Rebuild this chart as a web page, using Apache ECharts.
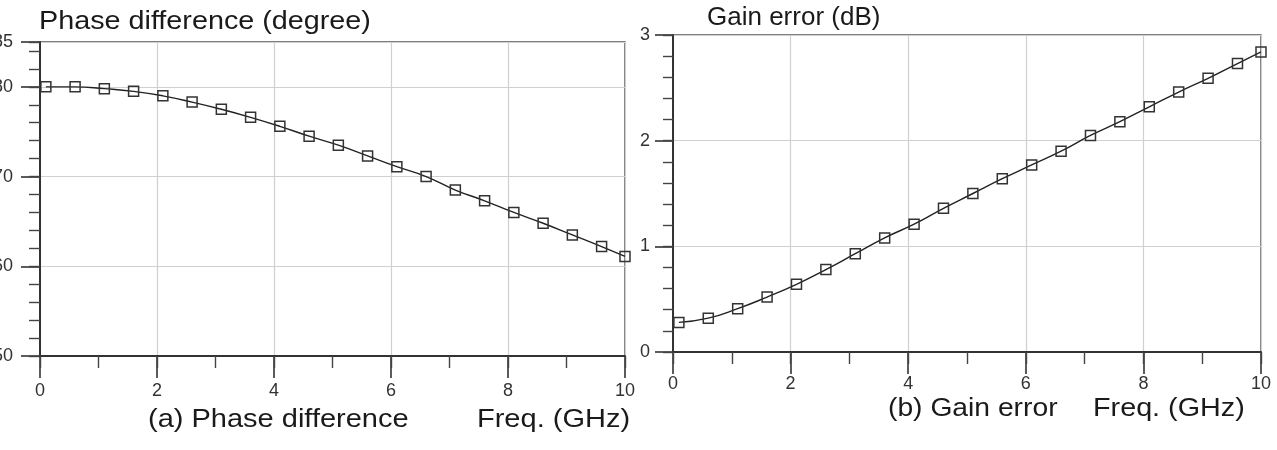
<!DOCTYPE html>
<html>
<head>
<meta charset="utf-8">
<script src="https://cdn.jsdelivr.net/npm/echarts@6/dist/echarts.min.js"></script>
<style>
  html, body { margin: 0; padding: 0; background: #fff; }
  #chart { width: 1277px; height: 450px; }
</style>
</head>
<body>
<div id="chart"></div>
<script>
// frequency points (GHz), shared by both plots
var freq = [0.1, 0.6, 1.1, 1.6, 2.1, 2.6, 3.1, 3.6, 4.1, 4.6, 5.1, 5.6, 6.1, 6.6, 7.1, 7.6, 8.1, 8.6, 9.1, 9.6, 10];
// (a) phase difference, degree
var phase = [180.0, 180.0, 179.8, 179.5, 179.0, 178.3, 177.5, 176.6, 175.6, 174.5, 173.5, 172.3, 171.1, 170.0, 168.5, 167.3, 166.0, 164.8, 163.5, 162.2, 161.1];
// (b) gain error, dB
var gain = [0.28, 0.32, 0.41, 0.52, 0.64, 0.78, 0.93, 1.08, 1.21, 1.36, 1.50, 1.64, 1.77, 1.90, 2.05, 2.18, 2.32, 2.46, 2.59, 2.73, 2.84];

var font = '"Liberation Sans", Arial, sans-serif';
var axisCol = '#333';
var gridCol = '#d0d0d0';

function pairs(ys) {
  return freq.map(function (f, i) { return [f, ys[i]]; });
}

// main axis: labels, long ticks, grid lines
function mainAxis(grid, pos, min, max, step, tickLen, margin) {
  return {
    type: 'value', gridIndex: grid, position: pos, offset: 0,
    min: min, max: max, interval: step,
    axisLine: { show: true, onZero: false, lineStyle: { color: axisCol, width: 2 } },
    axisTick: { show: true, inside: false, length: tickLen, lineStyle: { color: axisCol, width: 1.6 } },
    axisLabel: { show: true, margin: margin, color: '#333', fontSize: 18, fontFamily: font },
    splitLine: { show: true, lineStyle: { color: gridCol, width: 1.2 } }
  };
}
// minor axis: only short ticks, same side as the main one
function minorAxis(grid, pos, min, max, step, tickLen) {
  return {
    type: 'value', gridIndex: grid, position: pos, offset: 0,
    min: min, max: max, interval: step,
    axisLine: { show: false, onZero: false },
    axisTick: { show: true, inside: false, length: tickLen, lineStyle: { color: '#444', width: 1.4 } },
    axisLabel: { show: false },
    splitLine: { show: false }
  };
}

function titleText(txt, x, y, sx) {
  return {
    type: 'text', x: x, y: y, scaleX: sx,
    style: { text: txt, font: '25px ' + font, fill: '#1a1a1a', textVerticalAlign: 'middle' }
  };
}

var chart = echarts.init(document.getElementById('chart'));
var option = {
  animation: false,
  backgroundColor: '#fff',
  grid: [
    { left: 40, top: 42, width: 585, height: 314, outerBoundsMode: 'none', containLabel: false,
      show: true, borderColor: '#555', borderWidth: 1.5 },
    { left: 673, top: 35, width: 588, height: 317, outerBoundsMode: 'none', containLabel: false,
      show: true, borderColor: '#555', borderWidth: 1.5 }
  ],
  xAxis: [
    mainAxis(0, 'bottom', 0, 10, 2, 22, 26),
    minorAxis(0, 'bottom', 0, 10, 1, 12),
    mainAxis(1, 'bottom', 0, 10, 2, 22, 23),
    minorAxis(1, 'bottom', 0, 10, 1, 12)
  ],
  yAxis: [
    mainAxis(0, 'left', 150, 185, 10, 19, 27),
    minorAxis(0, 'left', 150, 185, 2, 11),
    mainAxis(1, 'left', 0, 3, 1, 18, 23),
    minorAxis(1, 'left', 0, 3, 0.2, 10)
  ],
  graphic: [
    titleText('Phase difference (degree)', 39, 22, 1.15),
    titleText('Gain error (dB)', 707, 18, 1.04),
    titleText('(a) Phase difference', 148, 420, 1.16),
    titleText('Freq. (GHz)', 477, 420, 1.16),
    titleText('(b) Gain error', 888, 409, 1.13),
    titleText('Freq. (GHz)', 1093, 409, 1.15)
  ],
  series: [
    {
      name: 'Phase difference', type: 'line', xAxisIndex: 0, yAxisIndex: 0,
      data: pairs(phase), smooth: true,
      symbol: 'rect', symbolSize: 10,
      lineStyle: { color: '#222', width: 1.4 },
      itemStyle: { color: 'rgba(255,255,255,0)', borderColor: '#333', borderWidth: 1.5 }
    },
    {
      name: 'Gain error', type: 'line', xAxisIndex: 2, yAxisIndex: 2,
      data: pairs(gain), smooth: true,
      symbol: 'rect', symbolSize: 10,
      lineStyle: { color: '#222', width: 1.4 },
      itemStyle: { color: 'rgba(255,255,255,0)', borderColor: '#333', borderWidth: 1.5 }
    }
  ]
};
chart.setOption(option);
</script>
</body>
</html>
